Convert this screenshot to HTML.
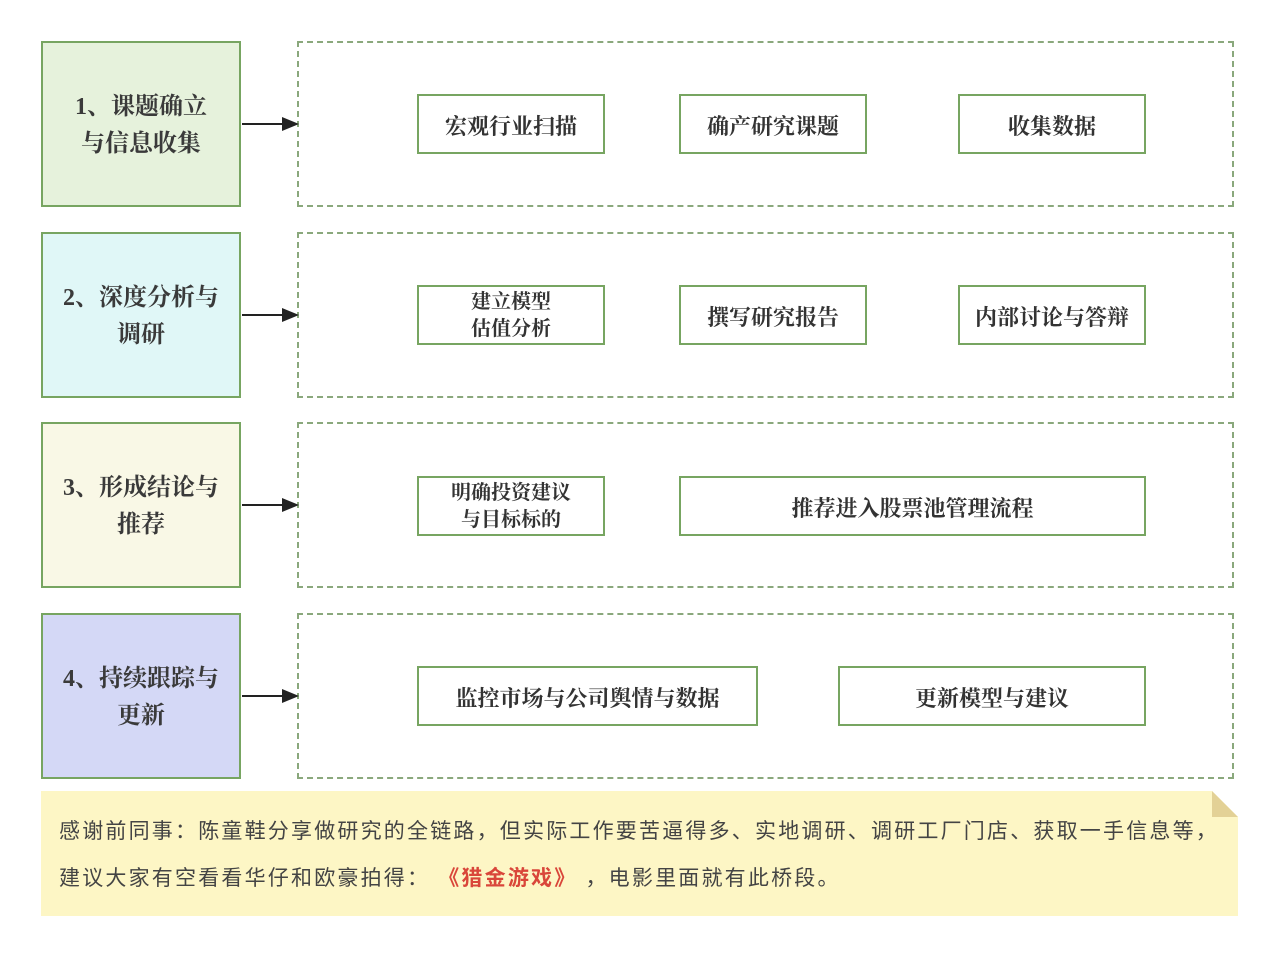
<!DOCTYPE html>
<html><head><meta charset="utf-8"><style>
body{margin:0;width:1280px;height:958px;background:#fff;position:relative;overflow:hidden;font-family:"Liberation Serif","Noto Serif CJK SC",serif;color:#333}
.a{position:absolute;box-sizing:border-box;display:flex;align-items:center;justify-content:center;text-align:center;font-weight:bold}
.l{border:2px solid #77a561;font-size:24px;line-height:37px;color:#3a3a3a;width:200px;height:166px;left:41px;padding-top:4px}
.d{position:absolute;border:2px dashed #8aa87c;left:297px;width:937px;height:166px;box-sizing:border-box}
.i{border:2px solid #77a561;background:#fff;font-size:22px;line-height:27px;height:60px;color:#333;padding-top:4px}
.i.s{font-size:20px;padding-top:2px}
.arr{position:absolute;left:242px;width:40px;height:2px;background:#222}
.arr:after{content:"";position:absolute;right:-17px;top:-6px;border-left:17px solid #222;border-top:7px solid transparent;border-bottom:7px solid transparent}
.note{position:absolute;left:41px;top:791px;width:1197px;height:125px;background:#fdf6c5;font-family:"Liberation Sans","Noto Sans CJK SC",sans-serif;font-size:21px;letter-spacing:2.2px;color:#444;box-sizing:border-box;padding:17px 0 0 18px;line-height:47px;clip-path:polygon(0 0,1171px 0,1197px 26px,1197px 125px,0 125px)}
.fold{position:absolute;left:1212px;top:791px;width:26px;height:26px;background:#e3d196;clip-path:polygon(0 0,0 100%,100% 100%)}
</style></head><body>
<div class="a l" style="top:41px;background:#e6f2dc">1、课题确立<br>与信息收集</div>
<div class="a l" style="top:232px;background:#e0f7f7">2、深度分析与<br>调研</div>
<div class="a l" style="top:422px;background:#f9f8e6">3、形成结论与<br>推荐</div>
<div class="a l" style="top:613px;background:#d4d8f6">4、持续跟踪与<br>更新</div>
<div class="d" style="top:41px"></div><div class="d" style="top:232px"></div><div class="d" style="top:422px"></div><div class="d" style="top:613px"></div>
<div class="arr" style="top:123px"></div><div class="arr" style="top:314px"></div><div class="arr" style="top:504px"></div><div class="arr" style="top:695px"></div>
<div class="a i" style="left:417px;top:94px;width:188px">宏观行业扫描</div>
<div class="a i" style="left:679px;top:94px;width:188px">确产研究课题</div>
<div class="a i" style="left:958px;top:94px;width:188px">收集数据</div>
<div class="a i s" style="left:417px;top:285px;width:188px">建立模型<br>估值分析</div>
<div class="a i" style="left:679px;top:285px;width:188px">撰写研究报告</div>
<div class="a i" style="left:958px;top:285px;width:188px">内部讨论与答辩</div>
<div class="a i s" style="left:417px;top:476px;width:188px">明确投资建议<br>与目标标的</div>
<div class="a i" style="left:679px;top:476px;width:467px">推荐进入股票池管理流程</div>
<div class="a i" style="left:417px;top:666px;width:341px">监控市场与公司舆情与数据</div>
<div class="a i" style="left:838px;top:666px;width:308px">更新模型与建议</div>
<div class="note">感谢前同事：陈童鞋分享做研究的全链路，但实际工作要苦逼得多、实地调研、调研工厂门店、获取一手信息等，<br>建议大家有空看看华仔和欧豪拍得： <b style="color:#d9463a">《猎金游戏》</b> ，电影里面就有此桥段。</div>
<div class="fold"></div>
</body></html>
